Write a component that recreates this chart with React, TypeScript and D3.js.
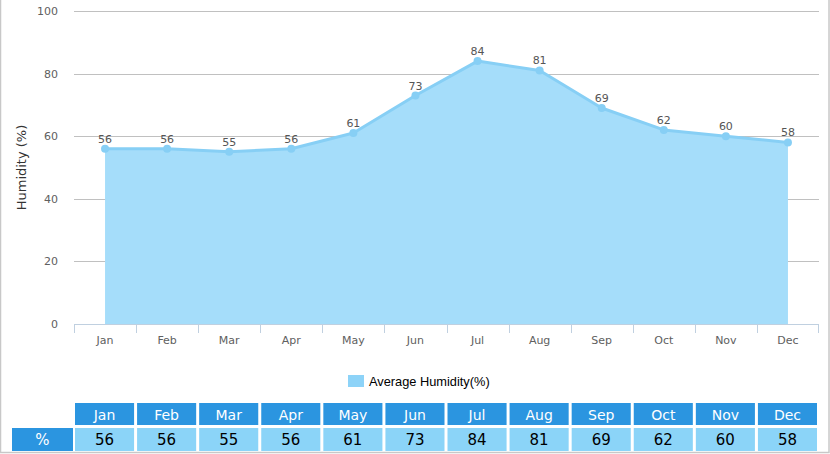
import React from "react";
import * as d3 from "d3";

const months = ["Jan","Feb","Mar","Apr","May","Jun","Jul","Aug","Sep","Oct","Nov","Dec"];
const humidity = [56,56,55,56,61,73,84,81,69,62,60,58];
const yTicks = [0,20,40,60,80,100];
const seriesName = "Average Humidity(%)";
const rowLabel = "%";

export default function App() {
  const W = 830, H = 454;
  const left = 74, right = 819, top = 11, bottom = 324;
  const x = d3.scaleBand<string>().domain(months).range([left, right]);
  const y = d3.scaleLinear().domain([0, 100]).range([bottom, top]);
  const cx = (m: string) => (x(m) as number) + x.bandwidth() / 2;
  const pts: [number, number][] = months.map((m, i) => [cx(m), y(humidity[i])]);
  const line = d3.line<[number, number]>().x(d => d[0]).y(d => d[1]);
  const area = d3.area<[number, number]>().x(d => d[0]).y0(y(0)).y1(d => d[1]);
  const font = "'Lucida Grande','DejaVu Sans',Verdana,Arial,sans-serif";
  const bw = x.bandwidth();
  return (
    <svg width={W} height={H} style={{ position: "absolute", left: 0, top: 0, display: "block" }}>
      <rect x={0} y={0} width={W} height={H} fill="#fff" />
      <rect x={0.5} y={-1} width={W - 1.5} height={H - 0.5} fill="none" stroke="#c8c8c8" strokeWidth={1.5} />
      {yTicks.map(t => (
        <g key={t}>
          {t > 0 && <line x1={left} x2={right} y1={Math.round(y(t)) + 0.5} y2={Math.round(y(t)) + 0.5} stroke="#c0c0c0" strokeWidth={1} />}
          <text x={58} y={y(t) + 4} textAnchor="end" fontSize={11} fill="#606060" fontFamily={font}>{t}</text>
        </g>
      ))}
      <text transform={`translate(26,${(top + bottom) / 2}) rotate(-90)`} textAnchor="middle" fontSize={13} fill="#333" fontFamily={font}>Humidity (%)</text>
      <path d={area(pts) as string} fill="#a5ddfa" />
      <path d={line(pts) as string} fill="none" stroke="#87cff5" strokeWidth={3} strokeLinejoin="round" />
      {pts.map((p, i) => (
        <circle key={i} cx={p[0]} cy={p[1]} r={4} fill="#87cff5" />
      ))}
      {pts.map((p, i) => (
        <text key={"l" + i} x={p[0]} y={p[1] - 6} textAnchor="middle" fontSize={11} fill="#555" fontFamily={font}>{humidity[i]}</text>
      ))}
      <line x1={left} x2={right} y1={bottom + 0.5} y2={bottom + 0.5} stroke="#c0d0e0" strokeWidth={1} />
      {months.map(m => (
        <line key={"t" + m} x1={Math.round(x(m) as number) + 0.5} x2={Math.round(x(m) as number) + 0.5} y1={bottom} y2={bottom + 9} stroke="#c0d0e0" />
      ))}
      <line x1={right - 0.5} x2={right - 0.5} y1={bottom} y2={bottom + 9} stroke="#c0d0e0" />
      {months.map(m => (
        <text key={"x" + m} x={cx(m)} y={344} textAnchor="middle" fontSize={11} fill="#606060" fontFamily={font}>{m}</text>
      ))}
      <rect x={348} y={375} width={16} height={12} fill="#8dd3f8" />
      <text x={369} y={385.5} fontSize={12.8} fill="#000" fontFamily="Arial, 'Liberation Sans', sans-serif">{seriesName}</text>
      <rect x={12} y={428} width={61} height={23} fill="#2b95e0" />
      <text x={42.5} y={445} textAnchor="middle" fontSize={15} fill="#fff" fontFamily="Verdana,'DejaVu Sans',sans-serif">{rowLabel}</text>
      {months.map((m, i) => {
        const x0 = (x(m) as number) + 1;
        const w = bw - 3;
        return (
          <g key={"c" + m}>
            <rect x={x0} y={403} width={w} height={22} fill="#2b95e0" />
            <text x={x0 + w / 2} y={419.5} textAnchor="middle" fontSize={14} fill="#fff" fontFamily="Verdana,'DejaVu Sans',sans-serif">{m}</text>
            <rect x={x0} y={428} width={w} height={23} fill="#8bd4f8" />
            <text x={x0 + w / 2} y={445} textAnchor="middle" fontSize={15} fill="#000" fontFamily="Verdana,'DejaVu Sans',sans-serif">{humidity[i]}</text>
          </g>
        );
      })}
    </svg>
  );
}
